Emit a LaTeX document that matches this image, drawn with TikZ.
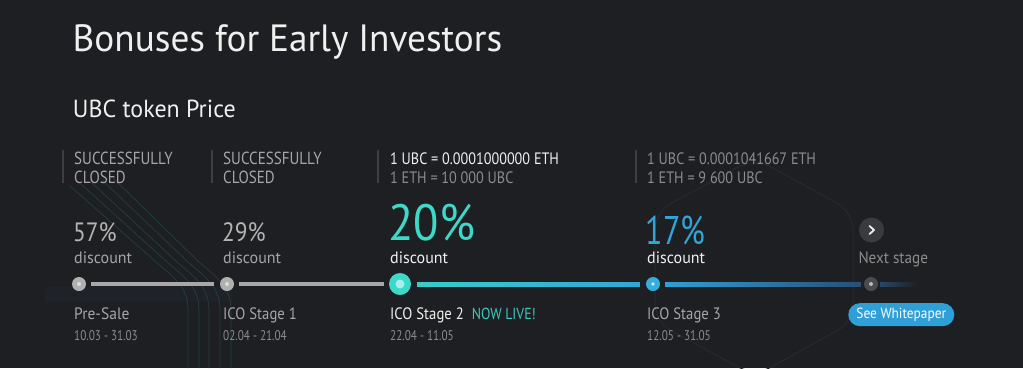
\documentclass[tikz,border=0pt]{standalone}
\usepackage{fontspec}
\usepackage{graphicx}
\setmainfont{PT Sans}
\usetikzlibrary{calc}
\definecolor{bg}{HTML}{1E1F22}
\definecolor{wht}{HTML}{F0F0F0}
\definecolor{gtxt}{HTML}{A6A6A6}
\definecolor{gdim}{HTML}{8C8C8C}
\definecolor{gbig}{HTML}{B4B4B4}
\definecolor{teal}{HTML}{3DD8C8}
\definecolor{tealtx}{HTML}{3CC8BE}
\definecolor{blu}{HTML}{2FA6D8}
\definecolor{btn}{HTML}{2F9FD8}
\definecolor{sep}{HTML}{3E3F42}
\definecolor{deco}{HTML}{22403E}
\definecolor{hexc}{HTML}{28292C}
\definecolor{glow}{HTML}{1F2329}
\definecolor{nxtbg}{HTML}{3A3B3E}
\definecolor{dotg}{HTML}{B0B0B0}
\definecolor{dotb}{HTML}{33AEDF}
\definecolor{dotd}{HTML}{4A4B4E}
\definecolor{inw}{HTML}{DCDCDC}
\definecolor{int}{HTML}{A6F2EA}
\definecolor{inb}{HTML}{CFEFFA}
\definecolor{ind}{HTML}{B8B8B8}
\definecolor{segg}{HTML}{A8A8A8}
\definecolor{sa}{HTML}{38CCC8}
\definecolor{sb}{HTML}{2FA8D8}
\definecolor{sc}{HTML}{2DA0D8}
\definecolor{sd}{HTML}{294F73}
\definecolor{se}{HTML}{27476A}
\newcommand{\fz}[1]{\fontsize{#1}{#1}\selectfont}
\newcommand{\hs}[2]{\scalebox{#1}[1]{#2}}
\tikzset{
  lbl/.style={inner sep=0pt, anchor=base west},
  sepline/.style={draw=sep, line width=1.5pt},
  seg/.style={line width=4pt},
  decoline/.style={draw=deco, line width=0.7pt},
  dotnode/.style={circle, inner sep=0pt, minimum size=14pt},
}
\begin{document}
\begin{tikzpicture}[x=1pt,y=-1pt]
\fill[bg] (0,0) rectangle (1023,368);
\useasboundingbox (0,0) rectangle (1023,368);
\begin{scope}
\clip (0,0) rectangle (1023,368);
% faint glow left of timeline
\fill[glow] (45,287) rectangle (232,302);
% decorative curves
\foreach \xe/\ys in {188/186,199/184,209/182,220/180,231/178}{
  \draw[decoline] (\xe-118,\ys) -- (\xe-32,262) .. controls (\xe-8,282) and (\xe,290) .. (\xe,312) -- (\xe,368);
}
% faint hexagon
\draw[hexc, line width=1pt, rounded corners=18pt] (755,158) -- (853,212) -- (853,322) -- (755,376) -- (655,322) -- (655,212) -- cycle;
\end{scope}

% titles
\node[lbl, font=\fz{38}, text=wht] (title) at (72.5,51.7) {\hs{0.98}{Bonuses for Early Investors}};
\node[lbl, font=\fz{24.7}, text=wht] (sub) at (72.7,117.3) {\hs{0.97}{UBC token Price}};

% separators
\draw[sepline] (63,150) -- (63,183);
\draw[sepline] (212,150) -- (212,183);
\draw[sepline] (378,150) -- (378,183);
\draw[sepline] (636,150) -- (636,183);

% top texts
\node[lbl, font=\fz{17.5}, text=gtxt] (s0a) at (74,164) {\hs{0.86}{SUCCESSFULLY}};
\node[lbl, font=\fz{17.5}, text=gtxt] (s0b) at (74,183.5) {\hs{0.86}{CLOSED}};
\node[lbl, font=\fz{17.5}, text=gtxt] (s1a) at (223,164) {\hs{0.86}{SUCCESSFULLY}};
\node[lbl, font=\fz{17.5}, text=gtxt] (s1b) at (223,183.5) {\hs{0.86}{CLOSED}};
\node[lbl, font=\fz{16.5}, text=wht] (s2a) at (390,164) {\hs{0.86}{1 UBC = 0.0001000000 ETH}};
\node[lbl, font=\fz{16.5}, text=gdim] (s2b) at (390,183.5) {\hs{0.86}{1 ETH = 10 000 UBC}};
\node[lbl, font=\fz{16.5}, text=gdim] (s3a) at (647,164) {\hs{0.86}{1 UBC = 0.0001041667 ETH}};
\node[lbl, font=\fz{16.5}, text=gdim] (s3b) at (647,183.5) {\hs{0.86}{1 ETH = 9 600 UBC}};

% discounts
\node[lbl, font=\fz{26.5}, text=gbig] (d0) at (73,241.7) {\hs{0.88}{57\%}};
\node[lbl, font=\fz{16.5}, text=gtxt] (d0l) at (74,263.3) {\hs{0.97}{discount}};
\node[lbl, font=\fz{26.5}, text=gbig] (d1) at (222,241.7) {\hs{0.88}{29\%}};
\node[lbl, font=\fz{16.5}, text=gtxt] (d1l) at (223,263.3) {\hs{0.97}{discount}};
\node[lbl, font=\fz{51}, text=teal] (d2) at (388.5,240.7) {\hs{0.91}{20\%}};
\node[lbl, font=\fz{16.5}, text=wht] (d2l) at (390,263.3) {\hs{0.97}{discount}};
\node[lbl, font=\fz{40}, text=blu] (d3) at (645.5,244) {\hs{0.8}{17\%}};
\node[lbl, font=\fz{16.5}, text=wht] (d3l) at (647,263.3) {\hs{0.97}{discount}};

% next stage button
\node[circle, fill=nxtbg, inner sep=0pt, minimum size=25pt] (nxt) at (871.5,230) {};
\draw[wht, line width=1.8pt, line cap=round, line join=round] ($(nxt.center)+(-2,-4)$) -- ($(nxt.center)+(2.5,0)$) -- ($(nxt.center)+(-2,4)$);
\node[lbl, font=\fz{16.5}, text=gdim] (nxtl) at (858.3,263.3) {\hs{0.92}{Next stage}};

% timeline nodes
\node[dotnode, fill=dotg] (n0) at (79,284) {};
\node[dotnode, fill=dotg] (n1) at (227,284) {};
\node[circle, inner sep=0pt, minimum size=22pt, fill=teal] (n2) at (400,284) {};
\node[dotnode, fill=dotb] (n3) at (653,284) {};
\node[dotnode, fill=dotd] (n4) at (871,284) {};
\fill[inw] (n0) circle (2);
\fill[inw] (n1) circle (2);
\fill[int] (n2) circle (4.5);
\fill[inb] (n3) circle (1.8);
\fill[ind] (n4) circle (2);

% timeline segments
\draw[seg, segg] ([xshift=5pt]n0.east) -- ([xshift=-6pt]n1.west);
\draw[seg, segg] ([xshift=5pt]n1.east) -- ([xshift=-5pt]n2.west);
\shade[left color=sa, right color=sb] ([xshift=6pt,yshift=2pt]n2.east) rectangle ([xshift=-6pt,yshift=-2pt]n3.west);
\shade[left color=sc, right color=sd] ([xshift=5pt,yshift=2pt]n3.east) rectangle ([xshift=-3pt,yshift=-2pt]n4.west);
\coordinate (tend) at (918,284);
\shade[left color=se, right color=bg] ([xshift=2pt,yshift=2pt]n4.east) rectangle ([yshift=-2pt]tend);

% stage names and dates
\node[lbl, font=\fz{16.5}, text=gtxt] (l0) at (74,319.3) {\hs{0.94}{Pre-Sale}};
\node[lbl, font=\fz{14}, text=gdim] (t0) at (74,340) {\hs{0.8}{10.03 - 31.03}};
\node[lbl, font=\fz{16.5}, text=gtxt] (l1) at (223,319.3) {\hs{0.89}{ICO Stage 1}};
\node[lbl, font=\fz{14}, text=gdim] (t1) at (223,340) {\hs{0.8}{02.04 - 21.04}};
\node[lbl, font=\fz{16.5}, text=wht] (l2) at (390,319.3) {\hs{0.89}{ICO Stage 2}};
\node[lbl, font=\fz{16}, text=tealtx] (live) at (471.7,319.3) {\hs{0.86}{NOW LIVE!}};
\node[lbl, font=\fz{14}, text=gdim] (t2) at (390,340) {\hs{0.8}{22.04 - 11.05}};
\node[lbl, font=\fz{16.5}, text=gtxt] (l3) at (647,319.3) {\hs{0.89}{ICO Stage 3}};
\node[lbl, font=\fz{14}, text=gdim] (t3) at (647,340) {\hs{0.8}{12.05 - 31.05}};

% whitepaper button
\node[rounded corners=11.5pt, fill=btn, minimum width=106pt, minimum height=23pt, inner sep=0pt, font=\fz{14.7}, text=white] (wp) at (901.3,314.7) {\hs{0.91}{See Whitepaper}};
\end{tikzpicture}
\end{document}
